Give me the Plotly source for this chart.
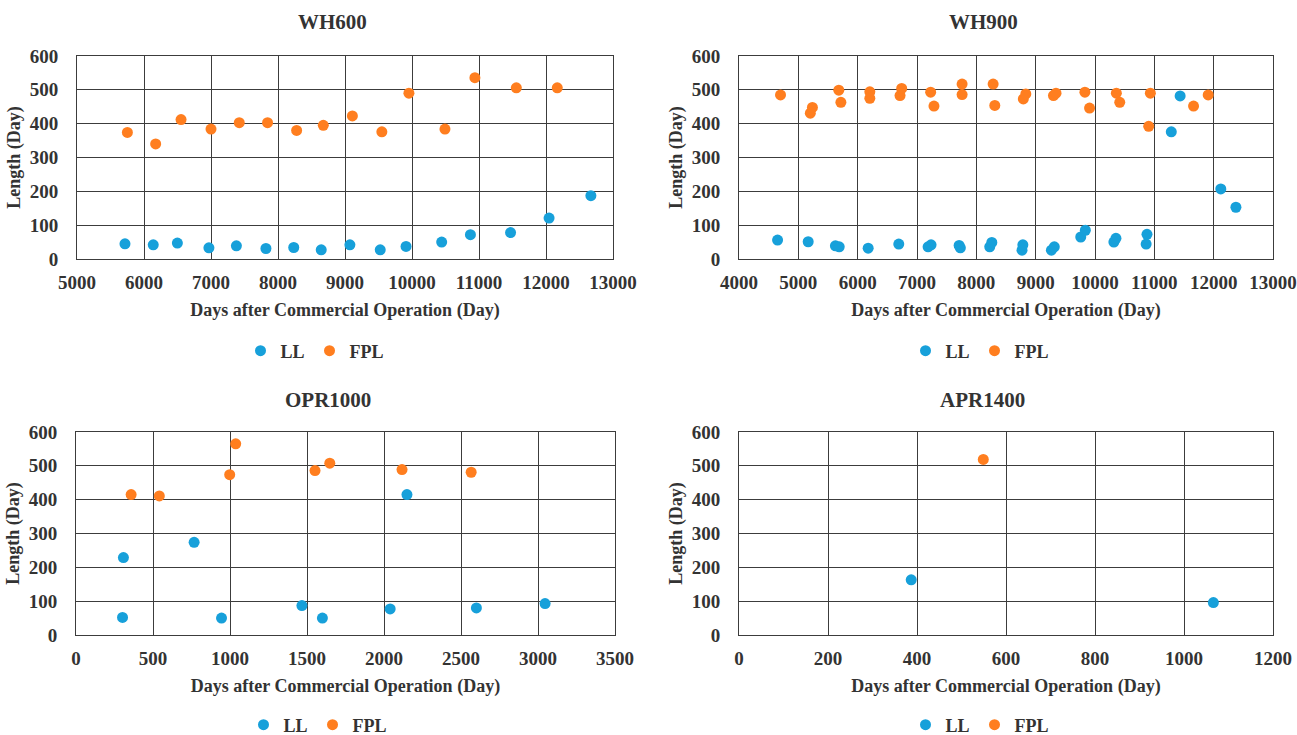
import plotly.graph_objects as go

# ---------------- data ----------------
wh600_ll_x = [5716, 6138, 6498, 6969, 7379, 7820, 8235, 8645, 9073, 9526, 9911, 10443, 10872, 11471, 12046, 12670]
wh600_ll_y = [45, 42, 47, 33, 39, 31, 34, 27, 42, 27, 37, 50, 72, 78, 121, 187]
wh600_fpl_x = [5752, 6174, 6553, 7000, 7422, 7844, 8278, 8676, 9110, 9550, 9954, 10492, 10939, 11557, 12168]
wh600_fpl_y = [374, 340, 412, 384, 403, 403, 380, 395, 423, 376, 490, 384, 536, 506, 506]

wh900_ll_x = [4650, 5166, 5625, 5689, 6177, 6693, 7187, 7237, 7710, 7731, 8226, 8261, 8770, 8784, 9265, 9314,
              9760, 9837, 10318, 10353, 10862, 10876, 11286, 11435, 12120, 12375]
wh900_ll_y = [56, 51, 39, 36, 32, 44, 36, 42, 40, 33, 36, 49, 26, 42, 26, 36,
              65, 85, 50, 61, 44, 73, 376, 482, 207, 153]
wh900_fpl_x = [4700, 5202, 5237, 5682, 5717, 6205, 6205, 6714, 6742, 7230, 7286, 7760, 7760, 8283, 8311, 8792,
               8834, 9300, 9343, 9830, 9908, 10360, 10417, 10905, 10933, 11661, 11908]
wh900_fpl_y = [485, 431, 448, 499, 463, 494, 475, 483, 504, 493, 452, 517, 486, 517, 454, 473,
               488, 483, 490, 493, 446, 490, 463, 392, 490, 452, 485]

opr_ll_x = [308, 302, 767, 945, 1467, 1600, 2040, 2149, 2600, 3046]
opr_ll_y = [229, 52, 274, 50, 87, 50, 77, 415, 80, 93]
opr_fpl_x = [358, 541, 998, 1037, 1552, 1648, 2117, 2566]
opr_fpl_y = [415, 411, 474, 565, 486, 508, 489, 481]

apr_ll_x = [387, 1066]
apr_ll_y = [163, 96]
apr_fpl_x = [549]
apr_fpl_y = [519]

titles = ["WH600", "WH900", "OPR1000", "APR1400"]
x_ranges = [[5000, 13000], [4000, 13000], [0, 3500], [0, 1200]]
x_dtick = [1000, 1000, 500, 200]
series_names = ["LL", "FPL"]
x_title = "Days after Commercial Operation (Day)"
y_title = "Length (Day)"

# ---------------- style ----------------
W, H = 1297, 735
BLUE = "#17A0DA"
ORANGE = "#FF7E1F"
FONT = "Liberation Serif"
TXT = "#333333"
GRID = "#3c3c3c"


def px(x):
    return x / W


def py(y):
    return 1 - y / H


# pixel boxes: left, right, top, bottom
boxes = [(77, 613, 56, 259), (739, 1273, 56, 259), (76, 615, 432, 635), (739, 1273, 432, 635)]
title_pos = [(332, 22), (983, 22), (328, 400), (982, 400)]
legend_pos = [(315, 351), (980, 351), (318, 725), (980, 725)]

data = [
    (wh600_ll_x, wh600_ll_y, wh600_fpl_x, wh600_fpl_y),
    (wh900_ll_x, wh900_ll_y, wh900_fpl_x, wh900_fpl_y),
    (opr_ll_x, opr_ll_y, opr_fpl_x, opr_fpl_y),
    (apr_ll_x, apr_ll_y, apr_fpl_x, apr_fpl_y),
]

fig = go.Figure()
layout = dict(
    width=W, height=H,
    margin=dict(l=0, r=0, t=0, b=0, autoexpand=False),
    paper_bgcolor="white", plot_bgcolor="white",
    font=dict(family=FONT, size=18, color=TXT),
    annotations=[],
)

for i in range(4):
    n = "" if i == 0 else str(i + 1)
    lx, ly, fx, fy = data[i]
    leg = "legend" if i == 0 else "legend" + str(i + 1)
    for xs, ys, name, col in ((lx, ly, series_names[0], BLUE), (fx, fy, series_names[1], ORANGE)):
        fig.add_trace(go.Scatter(
            x=xs, y=ys, mode="markers", name="<b>" + name + "</b>",
            marker=dict(color=col, size=11, line=dict(width=0)),
            xaxis="x" + n, yaxis="y" + n, legend=leg,
        ))
    l, r, t, b = boxes[i]
    axis_common = dict(
        showgrid=True, gridcolor=GRID, gridwidth=1,
        showline=True, linecolor=GRID, linewidth=1, mirror=True,
        zeroline=False, ticks="", automargin=False,
        tickformat="d", ticklabeloverflow="allow",
        tickfont=dict(family=FONT, size=19, color=TXT),
        tickprefix="<b>", ticksuffix="</b>",
    )
    layout["xaxis" + n] = dict(
        axis_common, domain=[px(l), px(r)], range=x_ranges[i], dtick=x_dtick[i],
        anchor="y" + n, ticklabelstandoff=6,
        title=dict(text="<b>" + x_title + "</b>", standoff=11,
                   font=dict(family=FONT, size=18, color=TXT)),
    )
    layout["yaxis" + n] = dict(
        axis_common, domain=[py(b), py(t)], range=[0, 600], dtick=100,
        anchor="x" + n, ticklabelstandoff=14,
        title=dict(text="<b>" + y_title + "</b>", standoff=4,
                   font=dict(family=FONT, size=18, color=TXT)),
    )
    tx, ty = title_pos[i]
    layout["annotations"].append(dict(
        text="<b>" + titles[i] + "</b>", x=px(tx), y=py(ty), xref="paper", yref="paper",
        showarrow=False, xanchor="center", yanchor="middle",
        font=dict(family=FONT, size=21, color=TXT),
    ))
    gx, gy = legend_pos[i]
    layout[leg] = dict(
        orientation="h", x=px(gx), y=py(gy), xanchor="center", yanchor="middle",
        font=dict(family=FONT, size=18, color=TXT), itemwidth=30,
        bgcolor="rgba(0,0,0,0)", tracegroupgap=0,
    )

fig.update_layout(**layout)
fig.write_html(
    "out.html",
    config={"displayModeBar": False},
    post_script="document.body.style.margin='0';document.body.style.overflow='hidden';",
)
